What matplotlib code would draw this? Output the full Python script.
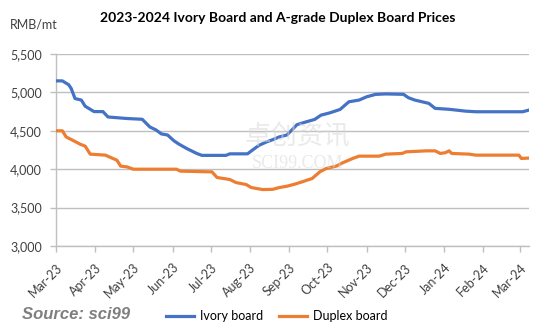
import matplotlib
matplotlib.use("Agg")
import matplotlib.pyplot as plt
import pandas as pd

ivory_dates = ["2023-03-01","2023-03-06","2023-03-11","2023-03-13","2023-03-16","2023-03-21","2023-03-24",
    "2023-03-29","2023-03-31","2023-04-07","2023-04-11","2023-04-26","2023-05-08","2023-05-14","2023-05-19",
    "2023-05-23","2023-05-28","2023-06-02","2023-06-06","2023-06-12","2023-06-20","2023-06-24","2023-07-13",
    "2023-07-16","2023-07-30","2023-08-03","2023-08-08","2023-08-14","2023-08-19","2023-08-24","2023-08-30",
    "2023-09-03","2023-09-07","2023-09-14","2023-09-21","2023-09-26","2023-10-03","2023-10-11","2023-10-18",
    "2023-10-26","2023-11-01","2023-11-08","2023-11-16","2023-11-30","2023-12-04","2023-12-09","2023-12-20",
    "2023-12-25","2024-01-05","2024-01-18","2024-01-26","2024-03-03","2024-03-08"]
ivory_values = [5150,5150,5100,5050,4920,4900,4820,4770,4750,4750,4680,4660,4650,4550,4510,4460,4445,4370,
    4326,4270,4205,4180,4180,4200,4200,4250,4310,4355,4385,4420,4445,4510,4580,4615,4648,4704,4734,4778,
    4878,4900,4943,4974,4980,4975,4930,4900,4857,4792,4780,4756,4748,4748,4770]

duplex_dates = ["2023-03-01","2023-03-06","2023-03-09","2023-03-14","2023-03-20","2023-03-24","2023-03-28",
    "2023-04-09","2023-04-13","2023-04-18","2023-04-21","2023-04-26","2023-05-01","2023-06-04","2023-06-07",
    "2023-07-02","2023-07-06","2023-07-16","2023-07-21","2023-07-29","2023-08-02","2023-08-11","2023-08-19",
    "2023-08-24","2023-08-30","2023-09-05","2023-09-11","2023-09-19","2023-09-25","2023-09-30","2023-10-08",
    "2023-10-13","2023-10-21","2023-10-26","2023-11-11","2023-11-16","2023-11-29","2023-12-02","2023-12-18",
    "2023-12-25","2023-12-29","2024-01-02","2024-01-05","2024-01-07","2024-01-21","2024-01-26","2024-02-29",
    "2024-03-02","2024-03-08"]
duplex_values = [4500,4500,4420,4378,4326,4300,4196,4183,4153,4118,4040,4030,4000,4000,3975,3965,3892,3866,
    3826,3800,3761,3735,3738,3761,3778,3804,3835,3879,3965,4009,4040,4083,4140,4170,4170,4196,4205,4226,
    4239,4239,4205,4215,4239,4205,4196,4183,4183,4140,4145]

month_ticks = ["2023-03-01","2023-04-01","2023-05-01","2023-06-01","2023-07-01","2023-08-01","2023-09-01",
    "2023-10-01","2023-11-01","2023-12-01","2024-01-01","2024-02-01","2024-03-01"]
month_labels = ["Mar-23","Apr-23","May-23","Jun-23","Jul-23","Aug-23","Sep-23","Oct-23","Nov-23","Dec-23",
    "Jan-24","Feb-24","Mar-24"]
y_ticks = [3000, 3500, 4000, 4500, 5000, 5500]

plt.rcParams['font.family'] = ['Lato', 'DejaVu Sans']

fig = plt.figure(figsize=(5.56, 3.34), dpi=100)
ax = fig.add_axes([56/556, 1-246/334, (529-56)/556, (246-54)/334])

ax.plot(pd.to_datetime(ivory_dates), ivory_values, color="#4472C4", lw=2.3, label="Ivory board", zorder=3)
ax.plot(pd.to_datetime(duplex_dates), duplex_values, color="#ED7D31", lw=2.3, label="Duplex board", zorder=3)

ax.set_xlim(pd.Timestamp("2023-03-01"), pd.Timestamp("2024-03-08"))
ax.set_ylim(3000, 5500)
ax.set_yticks(y_ticks)
ax.set_yticklabels([f"{v:,}" for v in y_ticks], fontsize=9, color="#404040")
ax.set_xticks(pd.to_datetime(month_ticks))
ax.set_xticklabels(month_labels, rotation=45, ha="right", rotation_mode="anchor", fontsize=9, color="#404040")

ax.grid(axis="y", color="#BFBFBF", lw=1.0, zorder=0)
for s in ["top", "right"]:
    ax.spines[s].set_visible(False)
for s in ["left", "bottom"]:
    ax.spines[s].set_color("#BFBFBF")
    ax.spines[s].set_linewidth(1.0)
ax.tick_params(axis="y", color="#BFBFBF", length=4, width=1.0, pad=6)
ax.tick_params(axis="x", color="#BFBFBF", length=4, width=1.0, pad=7)

# watermark
fig.text(0.535, 0.592, "卓创资讯", family=["Noto Sans CJK SC"], fontsize=19, color="#D9D9D9", alpha=0.55,
         ha="center", va="center", zorder=0)
fig.text(0.535, 0.51, "SCI99.COM", family=["Liberation Serif"], fontsize=13, color="#D9D9D9", alpha=0.55,
         ha="center", va="center", zorder=0)

fig.text(0.5, 0.946, "2023-2024 Ivory Board and A-grade Duplex Board Prices", fontsize=10, fontweight="bold",
         ha="center", va="center", color="#000000")
fig.text(0.018, 0.926, "RMB/mt", fontsize=9, ha="left", va="center", color="#404040")
fig.text(0.04, 0.057, "Source: sci99", family=["Liberation Sans"], fontsize=12, fontweight="bold",
         style="italic", color="#7F7F7F", ha="left", va="center")

leg = fig.legend(loc="center", bbox_to_anchor=(0.498, 0.054), ncol=2, frameon=False, fontsize=9,
                 handlelength=2.2, columnspacing=1.3, handletextpad=0.5)

fig.savefig("out.png", dpi=100)
